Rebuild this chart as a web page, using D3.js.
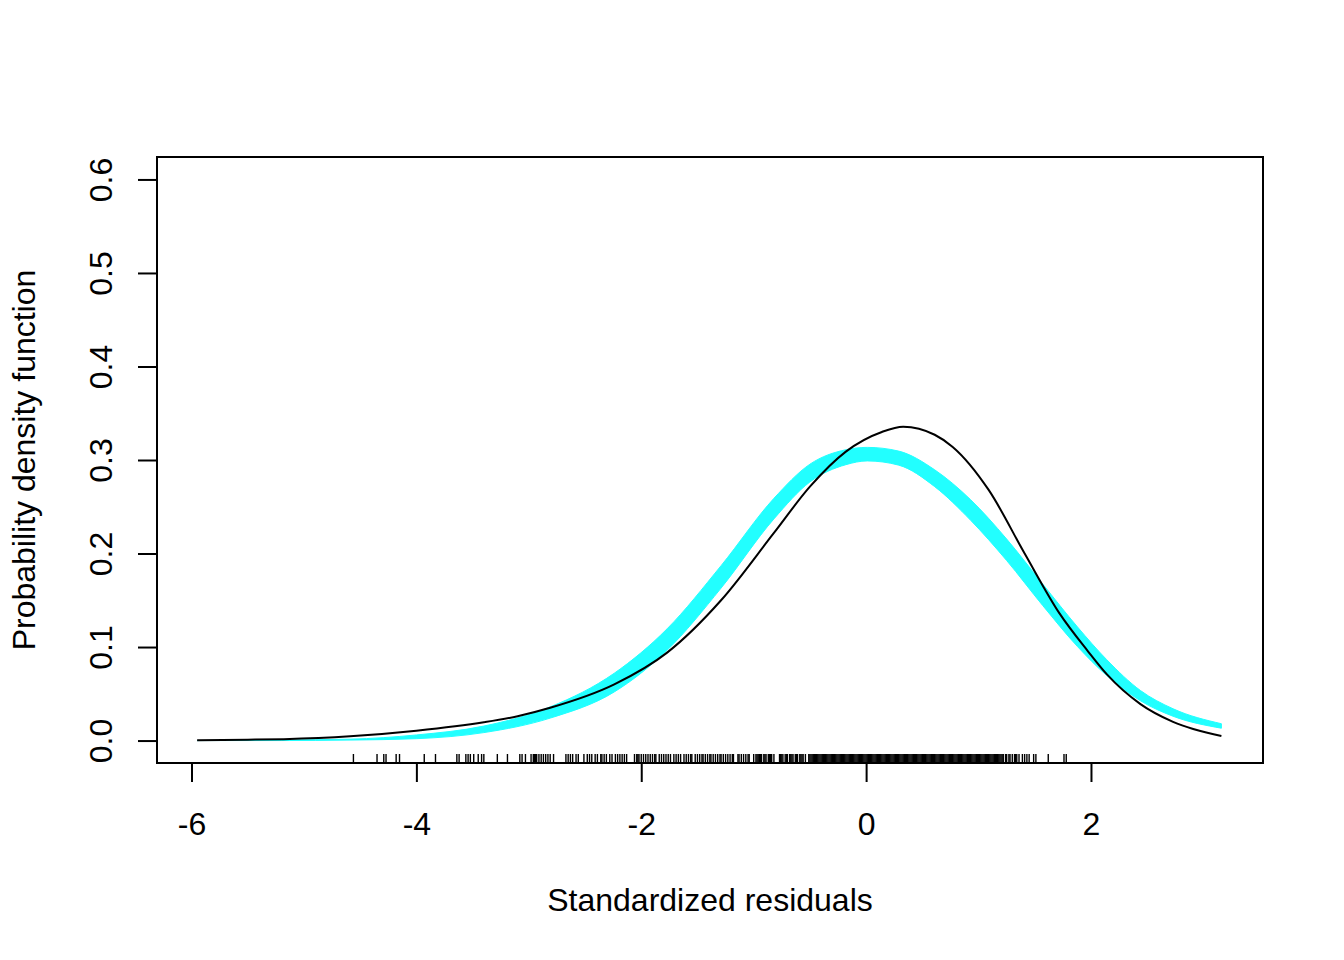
<!DOCTYPE html>
<html>
<head>
<meta charset="utf-8">
<script src="https://cdn.jsdelivr.net/npm/d3@7/dist/d3.min.js"></script>
<style>
  body { margin: 0; background: #fff; }
  text { font-family: "Liberation Sans", Arial, Helvetica, sans-serif; fill: #000; }
</style>
</head>
<body>
<script>
// Values
var xTicks = [-6, -4, -2, 0, 2];
var yTicks = [0.0, 0.1, 0.2, 0.3, 0.4, 0.5, 0.6];

// Normal density band (cyan): lower and upper edge
var normX  = [-5.95, -5.2, -4.59, -4.0, -3.4, -2.81, -2.24, -1.77, -1.29, -0.82, -0.5, -0.18, 0.01, 0.29, 0.61, 0.93, 1.25, 1.57, 1.88, 2.14, 2.44, 2.73, 3.16];
var normLo = [0.0, 0.0, 0.0005, 0.002, 0.0085, 0.024, 0.052, 0.0965, 0.163, 0.237, 0.2765, 0.295, 0.299, 0.2945, 0.2715, 0.2355, 0.1925, 0.1445, 0.1005, 0.0695, 0.0425, 0.026, 0.0132];
var normHi = [0.0, 0.0006, 0.0015, 0.006, 0.0155, 0.036, 0.072, 0.1195, 0.187, 0.259, 0.2955, 0.311, 0.3135, 0.3095, 0.2895, 0.2575, 0.2155, 0.1675, 0.1215, 0.0865, 0.0535, 0.034, 0.018];

// Skewed density (black, thin)
var skewX = [-5.95, -5.5, -5.18, -4.59, -4.0, -3.4, -3.1, -2.81, -2.24, -1.77, -1.29, -0.82, -0.5, -0.18, 0.14, 0.33, 0.61, 0.77, 1.09, 1.41, 1.72, 1.97, 2.14, 2.44, 2.73, 3.16];
var skewY = [0.0004, 0.0009, 0.0015, 0.0045, 0.0105, 0.0195, 0.026, 0.035, 0.06, 0.094, 0.15, 0.222, 0.2715, 0.309, 0.33, 0.3356, 0.327, 0.314, 0.268, 0.2, 0.136, 0.096, 0.071, 0.039, 0.02, 0.0049];

// Standardized residuals shown as a rug
var residuals = [
  -4.56, -4.35, -4.29, -4.27, -4.18, -4.15, -3.93, -3.83, -3.64, -3.62, -3.56, -3.54, -3.52, -3.49,
  -3.45, -3.42, -3.40, -3.28, -3.19, -3.08, -3.06, -3.03, -2.98, -2.96, -2.95, -2.94, -2.93, -2.91,
  -2.89, -2.87, -2.85, -2.83, -2.81, -2.78, -2.67, -2.65, -2.63, -2.61, -2.58, -2.56,
  -2.51, -2.48, -2.46, -2.44, -2.41, -2.39, -2.36, -2.35, -2.33, -2.31, -2.28, -2.26, -2.23, -2.21,
  -2.19, -2.17, -2.15, -2.13, -2.06, -2.04, -2.03, -2.02, -2.00, -1.98, -1.96, -1.94, -1.92, -1.90,
  -1.88, -1.87, -1.84, -1.82, -1.80, -1.78, -1.76, -1.74, -1.71, -1.69, -1.67, -1.65, -1.62, -1.60,
  -1.58, -1.56, -1.55, -1.52, -1.50,
  -1.48, -1.46, -1.45, -1.43, -1.41, -1.39, -1.38, -1.36, -1.34, -1.32, -1.30, -1.29, -1.27, -1.25,
  -1.23, -1.21, -1.19, -1.18, -1.14, -1.13, -1.11, -1.09, -1.07, -1.05, -1.04, -1.00, -0.98, -0.97,
  -0.96, -0.95, -0.94, -0.93, -0.91, -0.90, -0.89, -0.87, -0.86, -0.85, -0.84, -0.82, -0.77, -0.76,
  -0.75, -0.74, -0.72, -0.71, -0.70, -0.68, -0.67, -0.66, -0.65, -0.63, -0.62, -0.61, -0.59, -0.58,
  -0.57, -0.56, -0.54, -0.51, -0.50, -0.49, -0.48, -0.47, -0.46, -0.45, -0.44, -0.43, -0.42, -0.41,
  -0.40, -0.39, -0.38, -0.37, -0.36, -0.35, -0.34, -0.33, -0.32, -0.31, -0.30, -0.29, -0.28, -0.27,
  -0.26, -0.25, -0.24, -0.23, -0.22, -0.21, -0.20, -0.19, -0.18, -0.17, -0.16, -0.15, -0.14, -0.13,
  -0.12, -0.11, -0.10, -0.09, -0.08, -0.07, -0.06, -0.05, -0.04, -0.03, -0.02, -0.01, 0.00, 0.01,
  0.02, 0.03, 0.04, 0.05, 0.06, 0.07, 0.08, 0.09, 0.10, 0.11, 0.12, 0.13, 0.14, 0.15, 0.16, 0.17,
  0.18, 0.19, 0.20, 0.21, 0.22, 0.23, 0.24, 0.25, 0.26, 0.27, 0.28, 0.29, 0.30, 0.31, 0.32, 0.33,
  0.34, 0.35, 0.36, 0.37, 0.38, 0.39, 0.40, 0.41, 0.42, 0.43, 0.44, 0.45, 0.46, 0.47, 0.48, 0.49,
  0.50, 0.51, 0.52, 0.53, 0.54, 0.55, 0.56, 0.57, 0.58, 0.59, 0.60, 0.61, 0.62, 0.63, 0.64, 0.65,
  0.66, 0.67, 0.68, 0.69, 0.70, 0.71, 0.72, 0.73, 0.74, 0.75, 0.76, 0.77, 0.78, 0.79, 0.80, 0.81,
  0.82, 0.83, 0.84, 0.85, 0.86, 0.87, 0.88, 0.89, 0.90, 0.91, 0.92, 0.93, 0.94, 0.95, 0.96, 0.97,
  0.98, 0.99, 1.00, 1.01, 1.02, 1.03, 1.04, 1.05, 1.06, 1.07, 1.08, 1.09, 1.10, 1.11, 1.12, 1.13,
  1.14, 1.15, 1.16, 1.17, 1.18, 1.19, 1.20, 1.21, 1.22, 1.24, 1.25, 1.27, 1.28, 1.30, 1.32, 1.33,
  1.34, 1.36,
  1.39, 1.41, 1.43, 1.45, 1.49, 1.51, 1.62, 1.76, 1.78
];

// Plot region (R style box)
var W = 1344, H = 960;
var plot = { left: 157, right: 1263, top: 157, bottom: 763 };

var svg = d3.select("body")
  .append("svg")
  .attr("width", W)
  .attr("height", H);

var x = d3.scaleLinear().domain([-6.307, 3.53]).range([plot.left, plot.right]);
var y = d3.scaleLinear().domain([-0.024, 0.624]).range([plot.bottom, plot.top]);

var normPts = normX.map(function(v, i) { return { x: v, lo: normLo[i], hi: normHi[i] }; });
var skewPts = skewX.map(function(v, i) { return { x: v, y: skewY[i] }; });

// Cyan band first, black curve on top
var band = d3.area()
  .x(function(d) { return x(d.x); })
  .y0(function(d) { return y(d.lo); })
  .y1(function(d) { return y(d.hi); })
  .curve(d3.curveMonotoneX);

svg.append("path")
  .datum(normPts)
  .attr("d", band)
  .attr("fill", "#22ffff")
  .attr("stroke", "#22ffff")
  .attr("stroke-width", 1);

var line = d3.line()
  .x(function(d) { return x(d.x); })
  .y(function(d) { return y(d.y); })
  .curve(d3.curveMonotoneX);

svg.append("path")
  .datum(skewPts)
  .attr("d", line)
  .attr("fill", "none")
  .attr("stroke", "#000")
  .attr("stroke-width", 2);

// Rug
svg.append("g")
  .selectAll("line")
  .data(residuals)
  .enter()
  .append("line")
  .attr("x1", function(d) { return x(d); })
  .attr("x2", function(d) { return x(d); })
  .attr("y1", plot.bottom)
  .attr("y2", plot.bottom - 9)
  .attr("stroke", "#000")
  .attr("stroke-width", 1.4);

// Box
svg.append("rect")
  .attr("x", plot.left)
  .attr("y", plot.top)
  .attr("width", plot.right - plot.left)
  .attr("height", plot.bottom - plot.top)
  .attr("fill", "none")
  .attr("stroke", "#000")
  .attr("stroke-width", 2);

// X axis (R uses a plain hyphen for negatives)
var xAxis = d3.axisBottom(x)
  .tickValues(xTicks)
  .tickSize(19)
  .tickPadding(30)
  .tickFormat(function(d) { return String(d); });

var gx = svg.append("g")
  .attr("transform", "translate(0," + plot.bottom + ")")
  .call(xAxis);
gx.select(".domain")
  .attr("d", "M" + x(xTicks[0]) + ",0H" + x(xTicks[xTicks.length - 1]))
  .attr("stroke-width", 2);
gx.selectAll(".tick line").attr("stroke-width", 2);
gx.selectAll(".tick text")
  .style("font-family", "'Liberation Sans', Arial, sans-serif")
  .style("font-size", "32px");

// Y axis, labels parallel to the axis
var yAxis = d3.axisLeft(y)
  .tickValues(yTicks)
  .tickSize(19)
  .tickFormat(d3.format(".1f"));

var gy = svg.append("g")
  .attr("transform", "translate(" + plot.left + ",0)")
  .call(yAxis);
gy.select(".domain")
  .attr("d", "M0," + y(yTicks[0]) + "V" + y(yTicks[yTicks.length - 1]))
  .attr("stroke-width", 2);
gy.selectAll(".tick line").attr("stroke-width", 2);
gy.selectAll(".tick text")
  .attr("x", null)
  .attr("dy", null)
  .attr("text-anchor", "middle")
  .attr("transform", "translate(-45,0) rotate(-90)")
  .style("font-family", "'Liberation Sans', Arial, sans-serif")
  .style("font-size", "32px");

// Axis titles
svg.append("text")
  .attr("x", (plot.left + plot.right) / 2)
  .attr("y", 911)
  .attr("text-anchor", "middle")
  .style("font-size", "32px")
  .text("Standardized residuals");

svg.append("text")
  .attr("transform", "translate(35," + (plot.top + plot.bottom) / 2 + ") rotate(-90)")
  .attr("text-anchor", "middle")
  .style("font-size", "32px")
  .text("Probability density function");
</script>
</body>
</html>
